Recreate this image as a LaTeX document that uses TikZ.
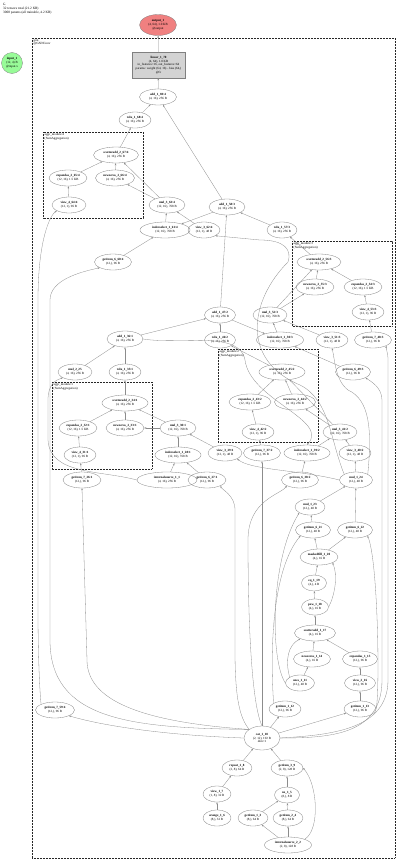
\documentclass[tikz,border=0pt]{standalone}
\usepackage{fontspec}
\setmainfont{Liberation Serif}
\usetikzlibrary{shapes.geometric,arrows.meta}
\definecolor{outpink}{HTML}{F08080}
\definecolor{ingreen}{HTML}{98FB98}
\definecolor{modgray}{HTML}{D3D3D3}
\begin{document}
\begin{tikzpicture}[x=1pt,y=-1pt,
  op/.style={ellipse,draw=black!50,line width=0.3pt,inner sep=0pt,align=center,minimum height=16,
    font=\fontsize{3.2}{3.8}\selectfont},
  e/.style={draw=black!45,line width=0.3pt,-{Stealth[length=2.2pt,width=1.6pt]}},
  cl/.style={draw=black!85,line width=0.7pt,dash pattern=on 0.9pt off 0.6pt},
  cltext/.style={anchor=north west,align=left,inner sep=0.5pt,font=\fontsize{3.2}{3.6}\selectfont}]
\useasboundingbox[fill=white] (0,0) rectangle (400,862);
\newcommand\opn[6]{\node[op,minimum width=#4] (#1) at (#2,#3) {\textbf{#5}\\#6};}
% title
\node[anchor=north west,align=left,inner sep=0pt,font=\fontsize{3.4}{3.9}\selectfont] (title) at (3,3)
  {G\\32 tensors total (21.2 KB)\\3008 params (all trainable, 4.2 KB)};
% clusters
\draw[cl] (32,38) rectangle (395,858);
\node[cltext] (lblouter) at (33,39) {gnn\\@GNNConv};
\draw[cl] (43,132) rectangle (143,218);
\node[cltext] (lbl4) at (44,133) {aggr\_module:4\\(SumAggregation)};
\draw[cl] (292,241) rectangle (392,326);
\node[cltext] (lbl3) at (293,242) {aggr\_module:3\\(SumAggregation)};
\draw[cl] (218,349) rectangle (318,442);
\node[cltext] (lbl2) at (219,350) {aggr\_module:2\\(SumAggregation)};
\draw[cl] (52,382) rectangle (152,469);
\node[cltext] (lbl1) at (53,383) {aggr\_module:1\\(SumAggregation)};
% special nodes
\node[op,fill=outpink,minimum width=37,minimum height=21] (output_1) at (158,25) {\textbf{output\_1}\\(4, 64), 1.0 KB\\@output};
\node[op,fill=ingreen,minimum width=21,minimum height=21] (input_1) at (12,63) {\textbf{input\_1}\\(12, 4) B\\@input.x};
\node[draw=black!50,line width=0.3pt,fill=modgray,minimum width=53,minimum height=26,inner sep=0pt,align=center,
  font=\fontsize{3.2}{3.8}\selectfont] (linear_1_70) at (158.5,65)
  {\textbf{linear\_1\_70}\\(4, 64), 1.0 KB\\in\_features=16, out\_features=64\\params: weight (64, 16) - bias (64,)\\@fc};
% layer 4
\opn{add_1_69}{158}{97}{37}{add\_1\_69:4}{(4, 16), 256 B}
\opn{relu_1_68}{135}{120}{32}{relu\_1\_68:4}{(4, 16), 256 B}
\opn{scatteradd_2_67}{116}{155}{45}{scatteradd\_2\_67:4}{(4, 16), 256 B}
\opn{expandas_2_65}{68}{178}{38}{expandas\_2\_65:4}{(12, 16), 1.5 KB}
\opn{newzeros_2_66}{115}{178}{39}{newzeros\_2\_66:4}{(4, 16), 256 B}
\opn{view_4_64}{69}{205}{34}{view\_4\_64:4}{(12, 1), 96 B}
\opn{mul_3_63}{167}{205}{36}{mul\_3\_63:4}{(12, 16), 768 B}
\opn{indexselect_1_61}{165}{230}{50}{indexselect\_1\_61:4}{(12, 16), 768 B}
\opn{view_3_62}{204}{230}{32}{view\_3\_62:4}{(12, 1), 48 B}
\opn{getitem_6_60}{113}{262}{37}{getitem\_6\_60:4}{(12,), 96 B}
% layer 3
\opn{add_1_58}{227}{207}{36}{add\_1\_58:3}{(4, 16), 256 B}
\opn{relu_1_57}{282}{230}{30}{relu\_1\_57:3}{(4, 16), 256 B}
\opn{scatteradd_2_56}{319}{262}{44}{scatteradd\_2\_56:3}{(4, 16), 256 B}
\opn{newzeros_2_55}{315}{287}{38}{newzeros\_2\_55:3}{(4, 16), 256 B}
\opn{expandas_2_54}{363}{287}{38}{expandas\_2\_54:3}{(12, 16), 1.5 KB}
\opn{view_4_53}{368}{312}{32}{view\_4\_53:3}{(12, 1), 96 B}
\opn{mul_3_52}{270}{315}{34}{mul\_3\_52:3}{(12, 16), 768 B}
\opn{indexselect_1_50}{280}{340}{47}{indexselect\_1\_50:3}{(12, 16), 768 B}
\opn{view_3_51}{332}{340}{32}{view\_3\_51:3}{(12, 1), 48 B}
\opn{getitem_7_48}{373}{340}{37}{getitem\_7\_48:3}{(12,), 96 B}
\opn{getitem_6_49}{353}{372}{35}{getitem\_6\_49:3}{(12,), 96 B}
% layer 2
\opn{add_1_47}{220}{315}{31}{add\_1\_47:2}{(4, 16), 256 B}
\opn{relu_1_46}{220}{340}{31}{relu\_1\_46:2}{(4, 16), 256 B}
\opn{scatteradd_2_45}{282}{372}{46}{scatteradd\_2\_45:2}{(4, 16), 256 B}
\opn{expandas_2_43}{250}{402}{42}{expandas\_2\_43:2}{(12, 16), 1.5 KB}
\opn{newzeros_2_44}{295}{402}{41}{newzeros\_2\_44:2}{(4, 16), 256 B}
\opn{view_4_42}{258}{432}{32}{view\_4\_42:2}{(12, 1), 96 B}
\opn{mul_3_41}{340}{432}{34}{mul\_3\_41:2}{(12, 16), 768 B}
\opn{getitem_7_37}{262}{453}{37}{getitem\_7\_37:2}{(12,), 96 B}
\opn{indexselect_1_39}{307}{453}{46}{indexselect\_1\_39:2}{(12, 16), 768 B}
\opn{view_3_40}{355}{453}{32}{view\_3\_40:2}{(12, 1), 48 B}
\opn{getitem_6_38}{300}{480}{37}{getitem\_6\_38:2}{(12,), 96 B}
% layer 1
\opn{add_1_36}{125}{339}{36}{add\_1\_36:1}{(4, 16), 256 B}
\opn{mul_2_25}{75}{372}{34}{mul\_2\_25}{(4, 16), 256 B}
\opn{relu_1_35}{125}{372}{32}{relu\_1\_35:1}{(4, 16), 256 B}
\opn{scatteradd_2_34}{125}{403}{46}{scatteradd\_2\_34:1}{(4, 16), 256 B}
\opn{expandas_2_32}{78}{428}{38}{expandas\_2\_32:1}{(12, 16), 1.5 KB}
\opn{newzeros_2_33}{125}{428}{38}{newzeros\_2\_33:1}{(4, 16), 256 B}
\opn{mul_3_30}{178}{428}{36}{mul\_3\_30:1}{(12, 16), 768 B}
\opn{view_4_31}{80}{455}{32}{view\_4\_31:1}{(12, 1), 96 B}
\opn{indexselect_1_28}{178}{455}{46}{indexselect\_1\_28:1}{(12, 16), 768 B}
\opn{view_3_29}{225}{453}{34}{view\_3\_29:1}{(12, 1), 48 B}
\opn{getitem_7_26}{82}{480}{38}{getitem\_7\_26:1}{(12,), 96 B}
\opn{internalsource_1_1}{167}{480}{60}{internalsource\_1\_1}{(4, 16), 256 B}
\opn{getitem_6_27}{207}{480}{38}{getitem\_6\_27:1}{(12,), 96 B}
% normalisation
\opn{mul_1_24}{356}{480}{33}{mul\_1\_24}{(12,), 48 B}
\opn{mul_1_23}{310}{507}{30}{mul\_1\_23}{(12,), 48 B}
\opn{getitem_6_21}{313}{530}{35}{getitem\_6\_21}{(12,), 48 B}
\opn{getitem_6_22}{355}{530}{35}{getitem\_6\_22}{(12,), 48 B}
\opn{maskedfill_1_20}{319}{557}{38}{maskedfill\_1\_20}{(4,), 16 B}
\opn{eq_1_19}{314}{583}{25}{eq\_1\_19}{(4,), 4 B}
\opn{pow_1_18}{315}{607}{27}{pow\_1\_18}{(4,), 16 B}
\opn{scatteradd_1_17}{315}{633}{41}{scatteradd\_1\_17}{(4,), 16 B}
\opn{newzeros_1_14}{312}{659}{37}{newzeros\_1\_14}{(4,), 16 B}
\opn{expandas_1_15}{360}{659}{35}{expandas\_1\_15}{(12,), 96 B}
\opn{ones_1_11}{300}{683}{29}{ones\_1\_11}{(12,), 48 B}
\opn{view_2_16}{360}{683}{31}{view\_2\_16}{(12,), 96 B}
\opn{getitem_1_12}{285}{709}{32}{getitem\_1\_12}{(12,), 96 B}
\opn{getitem_1_13}{360}{709}{32}{getitem\_1\_13}{(12,), 96 B}
\opn{getitem_7_59}{55}{710}{39}{getitem\_7\_59:4}{(12,), 96 B}
% edge index
\node[op,minimum width=36,minimum height=24] (cat_1_10) at (262,738) {\textbf{cat\_1\_10}\\(2, 12), 192 B\\dim=1};
\opn{repeat_1_8}{237}{768}{30}{repeat\_1\_8}{(2, 8), 64 B}
\opn{getitem_3_9}{287}{768}{32}{getitem\_3\_9}{(2, 8), 128 B}
\opn{view_1_7}{217}{794}{28}{view\_1\_7}{(1, 8), 32 B}
\opn{ne_1_5}{287}{795}{25}{ne\_1\_5}{(8,), 8 B}
\opn{arange_1_6}{217}{818}{28}{arange\_1\_6}{(8,), 32 B}
\opn{getitem_1_3}{253}{818}{30}{getitem\_1\_3}{(8,), 64 B}
\opn{getitem_2_4}{288}{818}{30}{getitem\_2\_4}{(8,), 64 B}
\opn{internalsource_2_2}{288}{845}{47}{internalsource\_2\_2}{(2, 8), 128 B}
% ---- edges: top
\draw[e] (linear_1_70) -- (output_1);
\draw[e] (add_1_69) -- (linear_1_70);
\draw[e] (relu_1_68) -- (add_1_69);
\draw[e] (add_1_58) -- (add_1_69);
\draw[e] (scatteradd_2_67) -- (relu_1_68);
\draw[e] (expandas_2_65) -- (scatteradd_2_67);
\draw[e] (newzeros_2_66) -- (scatteradd_2_67);
\draw[e] (mul_3_63) -- (scatteradd_2_67);
\draw[e] (mul_3_63) -- (newzeros_2_66);
\draw[e] (view_4_64) -- (expandas_2_65);
\draw[e] (indexselect_1_61) -- (mul_3_63);
\draw[e] (view_3_62) -- (mul_3_63);
\draw[e] (getitem_6_60) -- (indexselect_1_61);
\draw[e] (add_1_58) -- (indexselect_1_61);
% layer 3
\draw[e] (scatteradd_2_56) -- (relu_1_57);
\draw[e] (relu_1_57) -- (add_1_58);
\draw[e] (add_1_47) -- (add_1_58);
\draw[e] (expandas_2_54) -- (scatteradd_2_56);
\draw[e] (newzeros_2_55) -- (scatteradd_2_56);
\draw[e] (mul_3_52) -- (scatteradd_2_56);
\draw[e] (mul_3_52) -- (newzeros_2_55);
\draw[e] (view_4_53) -- (expandas_2_54);
\draw[e] (getitem_7_48) -- (view_4_53);
\draw[e] (indexselect_1_50) -- (mul_3_52);
\draw[e] (view_3_51) -- (mul_3_52);
\draw[e] (getitem_6_49) -- (indexselect_1_50);
\draw[e] (add_1_47) -- (indexselect_1_50);
% layer 2
\draw[e] (scatteradd_2_45) -- (relu_1_46);
\draw[e] (relu_1_46) -- (add_1_47);
\draw[e] (add_1_36) -- (add_1_47);
\draw[e] (expandas_2_43) -- (scatteradd_2_45);
\draw[e] (newzeros_2_44) -- (scatteradd_2_45);
\draw[e] (mul_3_41) -- (scatteradd_2_45);
\draw[e] (mul_3_41) -- (newzeros_2_44);
\draw[e] (view_4_42) -- (expandas_2_43);
\draw[e] (getitem_7_37) -- (view_4_42);
\draw[e] (indexselect_1_39) -- (mul_3_41);
\draw[e] (view_3_40) -- (mul_3_41);
\draw[e] (getitem_6_38) -- (indexselect_1_39);
\draw[e] (add_1_36.east) .. controls (180,345) and (240,330) .. (245,360) .. controls (250,400) and (330,420) .. (indexselect_1_39.north);
% layer 1
\draw[e] (scatteradd_2_34) -- (relu_1_35);
\draw[e] (relu_1_35) -- (add_1_36);
\draw[e] (mul_2_25) -- (add_1_36);
\draw[e] (expandas_2_32) -- (scatteradd_2_34);
\draw[e] (newzeros_2_33) -- (scatteradd_2_34);
\draw[e] (mul_3_30) -- (scatteradd_2_34);
\draw[e] (mul_3_30) -- (newzeros_2_33);
\draw[e] (view_4_31) -- (expandas_2_32);
\draw[e] (getitem_7_26) -- (view_4_31);
\draw[e] (indexselect_1_28) -- (mul_3_30);
\draw[e] (view_3_29) -- (mul_3_30);
\draw[e] (getitem_6_27) -- (indexselect_1_28);
\draw[e] (internalsource_1_1) -- (indexselect_1_28);
\draw[e] (internalsource_1_1.west) .. controls (100,470) and (50,475) .. (48,440) -- (48,400) .. controls (48,385) and (55,380) .. (mul_2_25.south west);
% norm
\draw[e] (mul_1_24.west) .. controls (300,470) and (250,470) .. (view_3_29.south east);
\draw[e] (mul_1_24) -- (view_3_40);
\draw[e] (mul_1_24.north east) .. controls (372,430) and (370,400) .. (348,390) .. controls (335,380) and (335,360) .. (view_3_51.south);
\draw[e] (mul_1_24.north west) .. controls (330,440) and (330,400) .. (300,385) .. controls (240,360) and (250,300) .. (288,262) .. controls (292,250) and (285,240) .. (260,240) -- (view_3_62.south east);
\draw[e] (mul_1_23) -- (mul_1_24);
\draw[e] (getitem_6_22) -- (mul_1_24);
\draw[e] (getitem_6_21) -- (mul_1_23);
\draw[e] (ones_1_11.west) .. controls (270,660) and (270,560) .. (mul_1_23.south west);
\draw[e] (maskedfill_1_20) -- (getitem_6_21);
\draw[e] (maskedfill_1_20) -- (getitem_6_22);
\draw[e] (getitem_1_12.north west) .. controls (270,650) and (272,570) .. (getitem_6_21.south west);
\draw[e] (getitem_1_13.east) .. controls (380,690) and (378,560) .. (getitem_6_22.south east);
\draw[e] (eq_1_19) -- (maskedfill_1_20);
\draw[e] (pow_1_18) -- (eq_1_19);
\draw[e] (pow_1_18.east) .. controls (335,595) and (338,575) .. (maskedfill_1_20.south east);
\draw[e] (scatteradd_1_17) -- (pow_1_18);
\draw[e] (newzeros_1_14) -- (scatteradd_1_17);
\draw[e] (expandas_1_15) -- (scatteradd_1_17);
\draw[e] (ones_1_11) -- (newzeros_1_14);
\draw[e] (ones_1_11.north west) .. controls (285,660) and (288,645) .. (scatteradd_1_17.south west);
\draw[e] (view_2_16) -- (expandas_1_15);
\draw[e] (getitem_1_13) -- (view_2_16);
\draw[e] (cat_1_10) -- (getitem_1_12);
\draw[e] (cat_1_10) -- (getitem_1_13);
% cat fan-out
\draw[e] (cat_1_10.west) .. controls (160,735) and (100,725) .. (getitem_7_59.south east);
\draw[e] (getitem_7_59.north west) .. controls (40,695) and (38,660) .. (38,610) -- (38,300) .. controls (38,240) and (50,215) .. (view_4_64.south west);
\draw[e] (cat_1_10.north west) .. controls (130,728) and (50,720) .. (50,640) -- (50,300) .. controls (50,280) and (80,272) .. (getitem_6_60.south west);
\draw[e] (cat_1_10.north west) .. controls (140,722) and (87,700) .. (87,660) -- (getitem_7_26.south);
\draw[e] (cat_1_10.north west) .. controls (240,718) and (235,700) .. (235,650) -- (235,510) .. controls (235,495) and (222,490) .. (getitem_6_27.south east);
\draw[e] (cat_1_10.north) -- (getitem_7_37.south);
\draw[e] (cat_1_10.north) .. controls (250,700) and (248,600) .. (248,540) .. controls (248,500) and (280,495) .. (getitem_6_38.south west);
\draw[e] (cat_1_10.east) .. controls (330,735) and (388,730) .. (388,680) -- (388,360) .. controls (388,352) and (386,350) .. (getitem_7_48.south east);
\draw[e] (cat_1_10.east) .. controls (330,738) and (382,735) .. (382,680) -- (382,400) .. controls (382,388) and (372,382) .. (getitem_6_49.south east);
% bottom
\draw[e] (getitem_3_9) -- (cat_1_10);
\draw[e] (repeat_1_8) -- (cat_1_10);
\draw[e] (view_1_7) -- (repeat_1_8);
\draw[e] (arange_1_6) -- (view_1_7);
\draw[e] (ne_1_5) -- (getitem_3_9);
\draw[e] (getitem_1_3) -- (ne_1_5);
\draw[e] (getitem_2_4) -- (ne_1_5);
\draw[e] (internalsource_2_2) -- (getitem_1_3);
\draw[e] (internalsource_2_2) -- (getitem_2_4);
\draw[e] (internalsource_2_2.north east) .. controls (320,830) and (318,785) .. (getitem_3_9.east);
\end{tikzpicture}
\end{document}
